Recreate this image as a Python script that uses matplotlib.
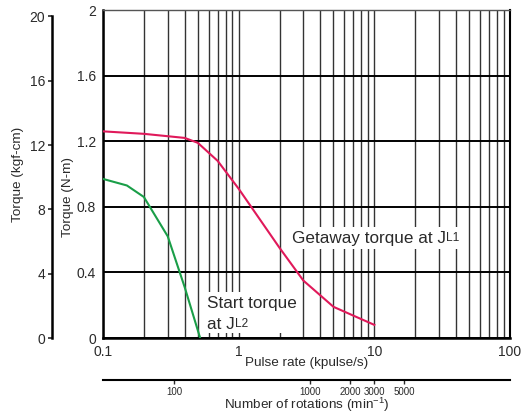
import matplotlib
matplotlib.use("Agg")
import matplotlib.pyplot as plt
from matplotlib.ticker import LogLocator, NullLocator, FixedLocator
from matplotlib.patches import Rectangle

plt.rcParams['font.family'] = ['Liberation Sans', 'DejaVu Sans']
plt.rcParams['mathtext.fontset'] = 'custom'
plt.rcParams['mathtext.rm'] = 'Liberation Sans'

# ---------------- data ----------------
pulse_ticks = [0.1, 1, 10, 100]
pulse_labels = ['0.1', '1', '10', '100']
torque_ticks = [0, 0.4, 0.8, 1.2, 1.6, 2]
torque_labels = ['0', '0.4', '0.8', '1.2', '1.6', '2']
kgf_ticks = [0, 4, 8, 12, 16, 20]
rpm_ticks = [100, 1000, 2000, 3000, 5000]

getaway_x = [0.1, 0.2, 0.4, 0.5, 0.7, 1, 2, 3, 5, 10]
getaway_y = [1.26, 1.245, 1.22, 1.19, 1.08, 0.91, 0.55, 0.35, 0.19, 0.08]
start_x = [0.1, 0.15, 0.2, 0.3, 0.4, 0.52]
start_y = [0.97, 0.93, 0.86, 0.62, 0.31, 0.0]

NM_TO_KGFCM = 10.197
KPPS_TO_RPM = 300.0
TXT = '#2a2a2a'

W, H = 526, 420
fig = plt.figure(figsize=(W / 100, H / 100), dpi=100)
ax = fig.add_axes([103 / W, 1 - 338 / H, 407 / W, 328 / H])
ax.set_xscale('log')
ax.set_xlim(0.1, 100)
ax.set_ylim(0, 2)

ax.set_xticks(pulse_ticks, pulse_labels)
ax.xaxis.set_minor_locator(LogLocator(base=10, subs=range(2, 10)))
ax.set_yticks(torque_ticks, torque_labels)
ax.tick_params(which='both', length=0, labelsize=10, colors=TXT, pad=5)
ax.grid(axis='x', which='both', color='#333333', lw=1.0, zorder=1)
ax.grid(axis='y', which='major', color='black', lw=1.4, zorder=1)
ax.set_axisbelow(True)

for s, lw, c in [('left', 1.8, 'black'), ('bottom', 1.8, 'black'),
                 ('right', 1.5, 'black'), ('top', 1.0, '#555555')]:
    ax.spines[s].set_linewidth(lw)
    ax.spines[s].set_color(c)

# white boxes behind annotations
ax.add_patch(Rectangle((0.571, 0.030), 2.77 - 0.571, 0.280 - 0.030,
                       facecolor='white', edgecolor='none', zorder=1.5))
ax.add_patch(Rectangle((2.377, 0.543), 45.5 - 2.377, 0.677 - 0.543,
                       facecolor='white', edgecolor='none', zorder=1.5))

ax.plot(getaway_x, getaway_y, color='#e0195a', lw=1.5, zorder=3)
ax.plot(start_x, start_y, color='#1a9e48', lw=1.5, zorder=3)

FS_ANN = 12.3
FS_SUB = 8.6
t1 = ax.text(2.46, 0.581, 'Getaway torque at J', fontsize=FS_ANN, color=TXT,
             va='baseline', ha='left', zorder=5)
ax.annotate('L1', xy=(1, 0), xycoords=t1, xytext=(0, 1.5), textcoords='offset points',
            fontsize=FS_SUB, color=TXT, va='bottom', ha='left', zorder=5)
ax.text(0.588, 0.181, 'Start torque', fontsize=FS_ANN, color=TXT,
        va='baseline', ha='left', zorder=5)
t2 = ax.text(0.588, 0.053, 'at J', fontsize=FS_ANN, color=TXT,
             va='baseline', ha='left', zorder=5)
ax.annotate('L2', xy=(1, 0), xycoords=t2, xytext=(0, 1.5), textcoords='offset points',
            fontsize=FS_SUB, color=TXT, va='bottom', ha='left', zorder=5)

# secondary torque axis (kgf-cm)
sec = ax.secondary_yaxis((52 - 103) / 407,
                         functions=(lambda v: v * NM_TO_KGFCM, lambda v: v / NM_TO_KGFCM))
sec.yaxis.set_major_locator(FixedLocator(kgf_ticks))
sec.yaxis.set_minor_locator(NullLocator())
sec.tick_params(length=3, width=1.2, labelsize=10, colors=TXT, pad=2)
sec.spines['left'].set_linewidth(1.8)
sec.spines['left'].set_bounds(0, 20)

# secondary rotation axis
secx = ax.secondary_xaxis((338 - 380) / 328,
                          functions=(lambda p: p * KPPS_TO_RPM, lambda r: r / KPPS_TO_RPM))
secx.xaxis.set_major_locator(FixedLocator(rpm_ticks))
secx.xaxis.set_minor_locator(NullLocator())
secx.set_xticklabels([str(v) for v in rpm_ticks])
secx.tick_params(length=3, width=1, labelsize=7, colors=TXT, pad=2)
secx.spines['bottom'].set_linewidth(1.5)

FS_LAB = 9.7
fig.text(18 / W, 1 - 174 / H, 'Torque (kgf-cm)', rotation=90, ha='center', va='center',
         fontsize=FS_LAB, color=TXT)
fig.text(68 / W, 1 - 197 / H, 'Torque (N-m)', rotation=90, ha='center', va='center',
         fontsize=FS_LAB, color=TXT)
fig.text(306.5 / W, 1 - 363 / H, 'Pulse rate (kpulse/s)', ha='center', va='center',
         fontsize=FS_LAB, color=TXT)
fig.text(306.5 / W, 1 - 405 / H, r'Number of rotations (min$^{-1}$)', ha='center', va='center',
         fontsize=FS_LAB, color=TXT)

fig.savefig('out.png', dpi=100)
